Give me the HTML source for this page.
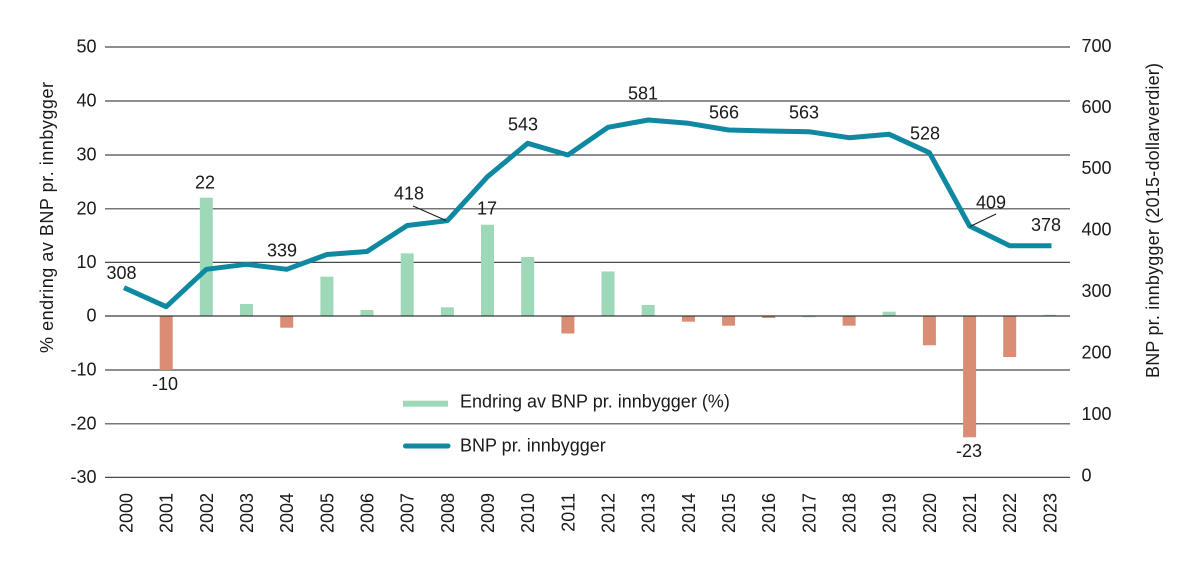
<!DOCTYPE html>
<html>
<head>
<meta charset="utf-8">
<style>
  html, body { margin: 0; padding: 0; background: #ffffff; }
  svg { display: block; }
  text { font-family: "Liberation Sans", Arial, sans-serif; fill: #1a1a1a; }
</style>
</head>
<body>
<svg width="1198" height="568" viewBox="0 0 1198 568" xmlns="http://www.w3.org/2000/svg">
  <!-- gridlines -->
  <g stroke="#4a4a4a" stroke-width="1.2">
    <line x1="105" y1="47" x2="1070" y2="47"/>
    <line x1="105" y1="101" x2="1070" y2="101"/>
    <line x1="105" y1="155" x2="1070" y2="155"/>
    <line x1="105" y1="208.8" x2="1070" y2="208.8"/>
    <line x1="105" y1="262.4" x2="1070" y2="262.4"/>
    <line x1="105" y1="370" x2="1070" y2="370"/>
    <line x1="105" y1="423.8" x2="1070" y2="423.8"/>
    <line x1="105" y1="477.4" x2="1070" y2="477.4"/>
  </g>

  <!-- bars -->
  <g fill="#9dd9b8">
    <rect x="199.8" y="197.7" width="13" height="118.3"/>
    <rect x="240.0" y="304" width="13" height="12"/>
    <rect x="320.4" y="276.7" width="13" height="39.3"/>
    <rect x="360.5" y="310" width="13" height="6"/>
    <rect x="400.7" y="253.3" width="13" height="62.7"/>
    <rect x="440.9" y="307.3" width="13" height="8.7"/>
    <rect x="481.0" y="224.7" width="13" height="91.3"/>
    <rect x="521.2" y="257" width="13" height="59"/>
    <rect x="601.5" y="271.5" width="13" height="44.5"/>
    <rect x="641.7" y="305" width="13" height="11"/>
    <rect x="802.4" y="316" width="13" height="1.2"/>
    <rect x="882.7" y="311.7" width="13" height="4.3"/>
    <rect x="1043.4" y="314.8" width="13" height="1.2"/>
  </g>
  <g fill="#d98d74">
    <rect x="159.7" y="316" width="13" height="54"/>
    <rect x="280.2" y="316" width="13" height="11.7"/>
    <rect x="561.4" y="316" width="13" height="17.5"/>
    <rect x="681.9" y="316" width="13" height="5.7"/>
    <rect x="722.1" y="316" width="13" height="9.7"/>
    <rect x="762.2" y="316" width="13" height="2"/>
    <rect x="842.6" y="316" width="13" height="9.7"/>
    <rect x="922.9" y="316" width="13" height="29.3"/>
    <rect x="963.1" y="316" width="13" height="121.3"/>
    <rect x="1003.2" y="316" width="13" height="41"/>
  </g>

  <!-- zero axis line -->
  <line x1="105" y1="316" x2="1070" y2="316" stroke="#3a3a3a" stroke-width="1.3"/>

  <!-- line series -->
  <polyline fill="none" stroke="#0f88a2" stroke-width="5" stroke-linejoin="round" stroke-linecap="butt"
    points="124,287.7 166.2,306.7 206.3,269.3 246.5,264.3 286.7,269.3 326.9,254.5 367.0,251.5 407.2,225.5 447.4,220.7 487.5,176.7 527.7,143.3 567.9,155 608.0,127.3 648.2,120 688.4,123.3 728.6,130 768.7,131 808.9,131.7 849.1,137.7 889.2,134.3 929.4,152.7 969.6,226 1009.7,245.7 1051.5,245.7"/>

  <!-- leader lines -->
  <g stroke="#1a1a1a" stroke-width="1">
    <line x1="413" y1="206" x2="446" y2="220.5"/>
    <line x1="996" y1="214" x2="970" y2="226.5"/>
  </g>

  <!-- left tick labels -->
  <g font-size="18" text-anchor="end">
    <text x="96.5" y="52.5">50</text>
    <text x="96.5" y="106.5">40</text>
    <text x="96.5" y="160.5">30</text>
    <text x="96.5" y="214.3">20</text>
    <text x="96.5" y="268">10</text>
    <text x="96.5" y="321.5">0</text>
    <text x="96.5" y="375.5">-10</text>
    <text x="96.5" y="429.3">-20</text>
    <text x="96.5" y="483">-30</text>
  </g>

  <!-- right tick labels -->
  <g font-size="18" text-anchor="start">
    <text x="1081.5" y="52">700</text>
    <text x="1081.5" y="113">600</text>
    <text x="1081.5" y="174">500</text>
    <text x="1081.5" y="235.5">400</text>
    <text x="1081.5" y="297">300</text>
    <text x="1081.5" y="358.5">200</text>
    <text x="1081.5" y="420">100</text>
    <text x="1081.5" y="481.5">0</text>
  </g>

  <!-- x labels -->
  <g font-size="18" text-anchor="end">
    <text transform="translate(132.5,493) rotate(-90)">2000</text>
    <text transform="translate(172.7,493) rotate(-90)">2001</text>
    <text transform="translate(212.8,493) rotate(-90)">2002</text>
    <text transform="translate(253.0,493) rotate(-90)">2003</text>
    <text transform="translate(293.2,493) rotate(-90)">2004</text>
    <text transform="translate(333.4,493) rotate(-90)">2005</text>
    <text transform="translate(373.5,493) rotate(-90)">2006</text>
    <text transform="translate(413.7,493) rotate(-90)">2007</text>
    <text transform="translate(453.9,493) rotate(-90)">2008</text>
    <text transform="translate(494.0,493) rotate(-90)">2009</text>
    <text transform="translate(534.2,493) rotate(-90)">2010</text>
    <text transform="translate(574.4,493) rotate(-90)">2011</text>
    <text transform="translate(614.5,493) rotate(-90)">2012</text>
    <text transform="translate(654.7,493) rotate(-90)">2013</text>
    <text transform="translate(694.9,493) rotate(-90)">2014</text>
    <text transform="translate(735.1,493) rotate(-90)">2015</text>
    <text transform="translate(775.2,493) rotate(-90)">2016</text>
    <text transform="translate(815.4,493) rotate(-90)">2017</text>
    <text transform="translate(855.6,493) rotate(-90)">2018</text>
    <text transform="translate(895.7,493) rotate(-90)">2019</text>
    <text transform="translate(935.9,493) rotate(-90)">2020</text>
    <text transform="translate(976.1,493) rotate(-90)">2021</text>
    <text transform="translate(1016.2,493) rotate(-90)">2022</text>
    <text transform="translate(1056.4,493) rotate(-90)">2023</text>
  </g>

  <!-- data labels -->
  <g font-size="18" text-anchor="middle">
    <text x="121.5" y="279">308</text>
    <text x="165" y="390">-10</text>
    <text x="205" y="188.5">22</text>
    <text x="282" y="256.5">339</text>
    <text x="409" y="199.5">418</text>
    <text x="487" y="214.5">17</text>
    <text x="523" y="130.5">543</text>
    <text x="643" y="99.5">581</text>
    <text x="724" y="118.5">566</text>
    <text x="804" y="118.5">563</text>
    <text x="925" y="139.5">528</text>
    <text x="991" y="208.5">409</text>
    <text x="1046" y="231">378</text>
    <text x="969" y="457">-23</text>
  </g>

  <!-- axis titles -->
  <text font-size="18" text-anchor="middle" textLength="271" lengthAdjust="spacing"
    transform="translate(53,217.5) rotate(-90)">% endring av BNP pr. innbygger</text>
  <text font-size="18" text-anchor="middle" textLength="315" lengthAdjust="spacing"
    transform="translate(1159,220.5) rotate(-90)">BNP pr. innbygger (2015-dollarverdier)</text>

  <!-- legend -->
  <rect x="403" y="400.7" width="45" height="6" fill="#9dd9b8"/>
  <text x="460" y="407.5" font-size="18">Endring av BNP pr. innbygger (%)</text>
  <line x1="405.5" y1="446" x2="448" y2="446" stroke="#0f88a2" stroke-width="5" stroke-linecap="round"/>
  <text x="460" y="451.5" font-size="18">BNP pr. innbygger</text>
</svg>
</body>
</html>
